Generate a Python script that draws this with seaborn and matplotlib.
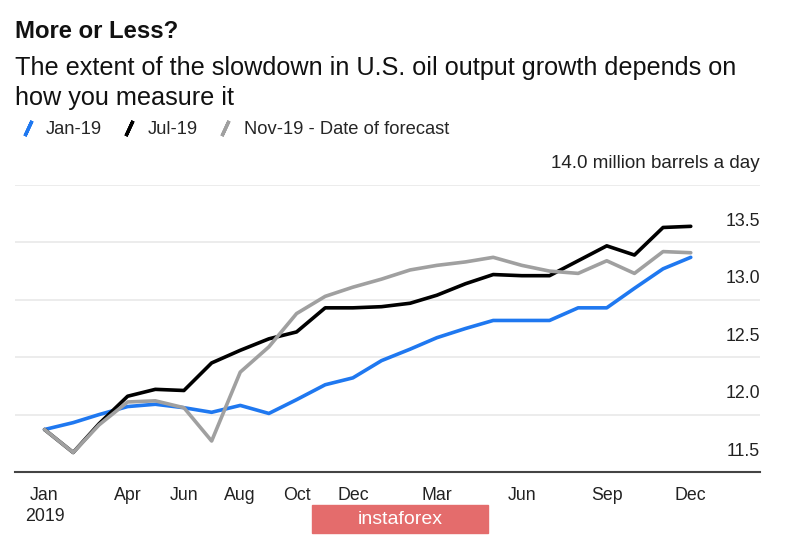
import pandas as pd
import numpy as np
import matplotlib
matplotlib.use('Agg')
import matplotlib.pyplot as plt
import seaborn as sns
from matplotlib.lines import Line2D
from matplotlib.patches import Rectangle

sns.set_style("white")
plt.rcParams['font.family'] = ['Liberation Sans', 'DejaVu Sans']

# -----------------------------------------------------
# DATA (million barrels a day)
# -----------------------------------------------------
months = pd.date_range('2019-01-01', periods=24, freq='MS')

jan19 = [11.87, 11.93, 12.00, 12.07, 12.09, 12.06, 12.02, 12.08, 12.01, 12.13, 12.26, 12.32,
         12.47, 12.57, 12.67, 12.75, 12.82, 12.82, 12.82, 12.93, 12.93, 13.10, 13.27, 13.37]
jul19 = [11.87, 11.67, 11.92, 12.16, 12.22, 12.21, 12.45, 12.56, 12.66, 12.72, 12.93, 12.93,
         12.94, 12.97, 13.04, 13.14, 13.22, 13.21, 13.21, 13.34, 13.47, 13.39, 13.63, 13.64]
nov19 = [11.87, 11.67, 11.91, 12.11, 12.12, 12.06, 11.77, 12.37, 12.59, 12.88, 13.03, 13.11,
         13.18, 13.26, 13.30, 13.33, 13.37, 13.30, 13.25, 13.23, 13.34, 13.23, 13.42, 13.41]

series_names = ['Jan-19', 'Jul-19', 'Nov-19 - Date of forecast']
series_colors = ['#1f78f0', '#000000', '#a0a0a0']

tick_dates = ['2019-01-01', '2019-04-01', '2019-06-01', '2019-08-01', '2019-10-01',
              '2019-12-01', '2020-03-01', '2020-06-01', '2020-09-01', '2020-12-01']
tick_labels = ['Jan\n2019', 'Apr', 'Jun', 'Aug', 'Oct', 'Dec', 'Mar', 'Jun', 'Sep', 'Dec']
y_ticks = [11.5, 12.0, 12.5, 13.0, 13.5, 14.0]

df = pd.DataFrame({
    'Month': np.tile(months, 3),
    'Value': jan19 + jul19 + nov19,
    'Forecast': np.repeat(series_names, len(months)),
})

# -----------------------------------------------------
# PLOT
# -----------------------------------------------------
fig = plt.figure(figsize=(8, 5.36), dpi=100)
ax = fig.add_axes([15 / 800, 1 - 472 / 536, 745 / 800, 287 / 536])

sns.lineplot(data=df, x='Month', y='Value', hue='Forecast', hue_order=series_names,
             palette=series_colors, linewidth=2.6, legend=False, ax=ax)

ax.set_xlim(pd.Timestamp('2018-11-30'), pd.Timestamp('2021-02-14'))
ax.set_ylim(11.5, 14.0)
ax.set_xlabel('')
ax.set_ylabel('')

ax.set_yticks(y_ticks)
ax.set_yticklabels([])
ax.tick_params(axis='y', length=0)
ax.grid(axis='y', color='#ebebeb', linewidth=1.3)
ax.grid(axis='x', visible=False)

ax.set_xticks(pd.to_datetime(tick_dates))
ax.set_xticklabels(tick_labels, fontsize=12.8, color='#222222', linespacing=1.25)
ax.tick_params(axis='x', direction='out', length=6, width=1.2, color='#444444', pad=5)

for side in ['top', 'right', 'left']:
    ax.spines[side].set_visible(False)
ax.spines['bottom'].set_color('#444444')
ax.spines['bottom'].set_linewidth(1.5)

# y labels sit just above their gridline, on the right
for v in y_ticks:
    label = f'{v:.1f}'
    size = 12.8
    if v == 14.0:
        label = '14.0 million barrels a day'
        size = 13.6
    ax.annotate(label, xy=(1, v), xycoords=('axes fraction', 'data'),
                xytext=(0, 9), textcoords='offset points',
                ha='right', va='bottom', fontsize=size, color='#222222')

# -----------------------------------------------------
# TITLE, SUBTITLE, LEGEND
# -----------------------------------------------------
fig.text(15 / 800, 1 - 32 / 536, 'More or Less?', fontsize=17.2, fontweight='bold',
         va='center', ha='left', color='#111111')
fig.text(15 / 800, 1 - 68 / 536, 'The extent of the slowdown in U.S. oil output growth depends on',
         fontsize=18.2, va='center', ha='left', color='#111111')
fig.text(15 / 800, 1 - 98 / 536, 'how you measure it',
         fontsize=18.2, va='center', ha='left', color='#111111')

handles = [Line2D([], [], linestyle='none', marker=(2, 2, -25), markersize=12,
                  markeredgewidth=2.4, color=c) for c in series_colors]
fig.legend(handles, series_names, loc='center left', bbox_to_anchor=(11 / 800, 1 - 130 / 536),
           ncol=3, frameon=False, fontsize=13.2, handlelength=1.0, handletextpad=0.5,
           columnspacing=1.0, borderaxespad=0)

# watermark box at the bottom
fig.patches.append(Rectangle((312 / 800, 3 / 536), 176 / 800, 28 / 536,
                             transform=fig.transFigure, color='#e46c6c', zorder=5))
fig.text(400 / 800, 1 - 519 / 536, 'instaforex', fontsize=14, color='white',
         ha='center', va='center', zorder=6)

plt.savefig('out.png', dpi=100)
